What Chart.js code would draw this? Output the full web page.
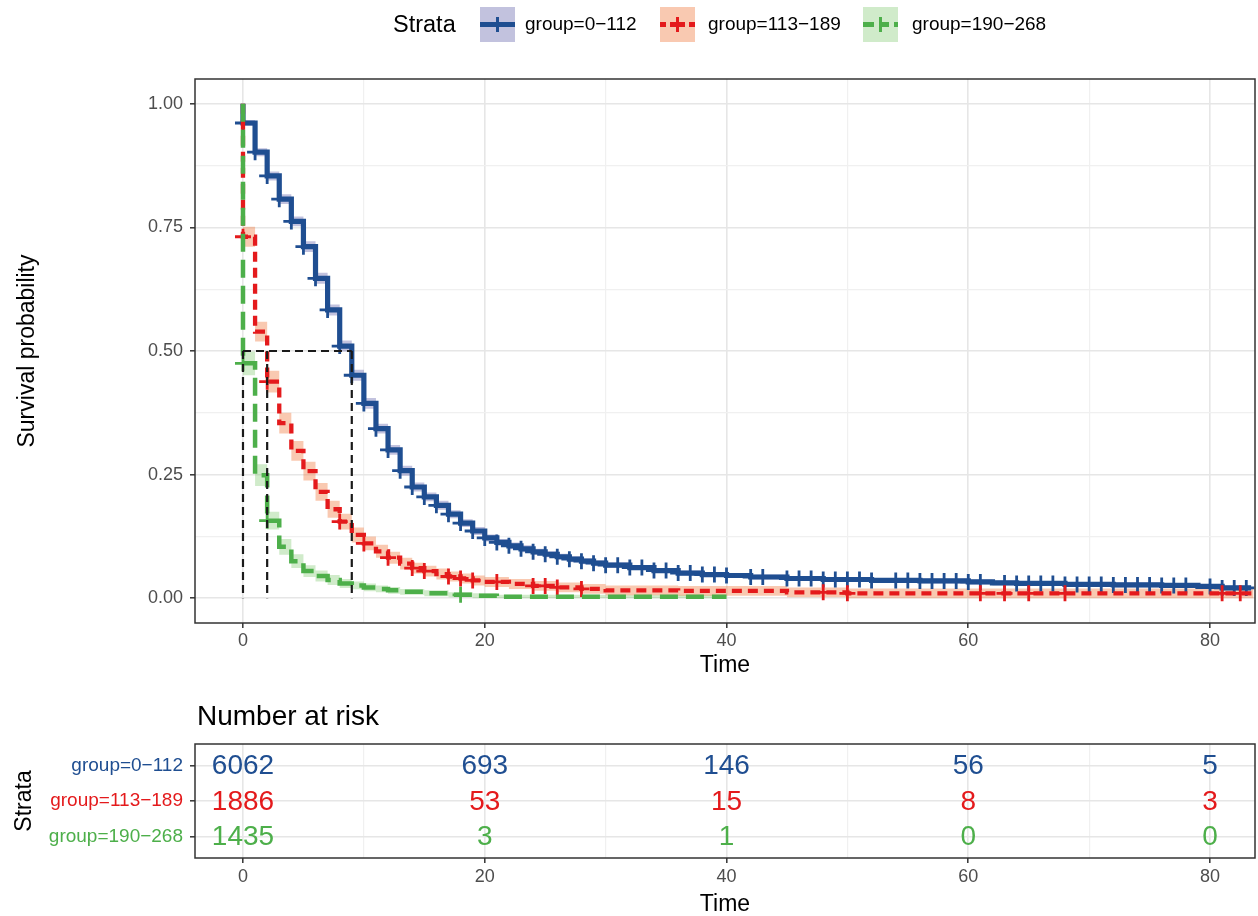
<!DOCTYPE html>
<html>
<head>
<meta charset="utf-8">
<title>Survival by group</title>
<script src="https://cdn.jsdelivr.net/npm/chart.js@4.4.1/dist/chart.umd.min.js"></script>
<style>
  html, body { margin: 0; padding: 0; background: #fff; }
  body { width: 1258px; height: 916px; position: relative; overflow: hidden; font-family: "Liberation Sans", Arial, sans-serif; }
  .pane { position: absolute; left: 0; width: 1258px; }
  #legend { position: absolute; left: 0; top: 0; width: 1258px; height: 50px; z-index: 2; }
  #legend .txt { position: absolute; top: 12px; line-height: 24px; white-space: nowrap; color: #000; }
  .key { position: absolute; top: 7px; width: 35px; height: 35px; }
  .key .h { position: absolute; left: 0; right: 0; top: 15px; height: 5px; }
  .key .v { position: absolute; left: 16px; top: 10px; width: 3px; height: 15px; }
</style>
</head>
<body>
<div id="legend"></div>
<div class="pane" style="top:0;height:690px"><canvas id="km"></canvas></div>
<div class="pane" style="top:690px;height:226px"><canvas id="risk"></canvas></div>

<script>
// groups
const groupNames = ["group=0\u2212112", "group=113\u2212189", "group=190\u2212268"];
const groupColors = ["#1f4e91", "#e41a1c", "#4daf4a"];
const bandColors = ["rgba(80,80,160,0.35)", "rgba(240,120,60,0.4)", "rgba(100,190,80,0.3)"];

// Kaplan-Meier curves
const blueTimes = [0,1,2,3,4,5,6,7,8,9,10,11,12,13,14,15,16,17,18,19,20,21,22,23,24,25,26,27,28,29,30,32,34,36,38,40,42,45,48,52,56,60,62,64,68,72,76,79,81];
const blueSurv = [0.961,0.902,0.854,0.807,0.762,0.711,0.647,0.583,0.510,0.451,0.394,0.343,0.300,0.258,0.225,0.205,0.188,0.170,0.152,0.136,0.122,0.113,0.106,0.100,0.094,0.089,0.084,0.079,0.075,0.071,0.067,0.062,0.056,0.051,0.048,0.046,0.043,0.040,0.038,0.036,0.035,0.033,0.031,0.030,0.028,0.027,0.026,0.024,0.021];
const blueHalf = [0.006,0.008,0.009,0.010,0.010,0.011,0.011,0.011,0.011,0.011,0.011,0.010,0.010,0.010,0.009,0.009,0.009,0.008,0.008,0.008,0.007,0.007,0.007,0.007,0.006,0.006,0.006,0.006,0.006,0.006,0.006,0.005,0.005,0.005,0.005,0.005,0.005,0.005,0.005,0.005,0.005,0.005,0.005,0.005,0.005,0.005,0.005,0.005,0.005];
const blueEnd = 83.4;
const blueCensor = [0,1,2,3,4,5,6,7,8,9,10,11,12,13,14,15,16,17,18,19,20,21,22,23,24,25,26,27,28,29,30,31,32,33,34,35,36,37,38,39,40,42,43,45,46,47,48,49,50,51,52,54,55,56,57,58,59,60,61,63,64,65,66,67,68,69,70,71,72,73,74,75,76,77,78,80,81,82,83];

const redTimes = [0,1,2,3,4,5,6,7,8,9,10,11,12,13,14,15,16,17,18,19,20,22,24,26,28,30,36,45,50];
const redSurv = [0.731,0.539,0.438,0.354,0.298,0.257,0.215,0.180,0.155,0.128,0.111,0.095,0.082,0.070,0.061,0.055,0.049,0.044,0.040,0.036,0.033,0.029,0.025,0.022,0.019,0.016,0.015,0.012,0.010];
const redHalf = [0.020,0.020,0.022,0.021,0.020,0.019,0.018,0.017,0.016,0.015,0.014,0.013,0.012,0.012,0.011,0.011,0.011,0.010,0.010,0.010,0.010,0.010,0.010,0.010,0.010,0.010,0.010,0.010,0.010];
const redEnd = 83.6;
const redCensor = [0,2,8,10,12,14,15,17,18,19,21,24,25,26,28,48,50,61,63,65,68,81,82.5];

const greenTimes = [0,1,2,3,4,5,6,7,8,9,10,11,12,13,15,17,19,21];
const greenSurv = [0.475,0.249,0.157,0.104,0.075,0.055,0.045,0.037,0.030,0.026,0.022,0.019,0.016,0.013,0.010,0.007,0.005,0.003];
const greenHalf = [0.024,0.022,0.018,0.016,0.014,0.012,0.011,0.010,0.009,0.008,0.008,0.007,0.007,0.006,0.006,0.005,0.005,0.004];
const greenEnd = 40;
const greenCensor = [0,2,18];

const medianTimes = [9, 2, 0];

// number at risk table
const riskTimes = [0, 20, 40, 60, 80];
const riskBlue = [6062, 693, 146, 56, 5];
const riskRed = [1886, 53, 15, 8, 3];
const riskGreen = [1435, 3, 1, 0, 0];

// axis ticks
const xTicks = [0, 10, 20, 30, 40, 50, 60, 70, 80];
const yTicks = [0, 0.125, 0.25, 0.375, 0.5, 0.625, 0.75, 0.875, 1];

const curves = [
  { times: blueTimes, surv: blueSurv, half: blueHalf, end: blueEnd, censor: blueCensor, dash: [], width: 5.2 },
  { times: redTimes, surv: redSurv, half: redHalf, end: redEnd, censor: redCensor, dash: [10, 6], width: 4.3 },
  { times: greenTimes, surv: greenSurv, half: greenHalf, end: greenEnd, censor: greenCensor, dash: [18, 8], width: 4.5 }
];
const riskRows = [riskBlue, riskRed, riskGreen];

Chart.defaults.font.family = '"Liberation Sans", Arial, sans-serif';
Chart.defaults.animation = false;

// legend (HTML)
const legend = document.getElementById("legend");
const keyLeft = [480, 660, 863];
const labLeft = [525, 708, 912];
legend.innerHTML = '<span class="txt" style="left:393px;font-size:23.5px">Strata</span>';
curves.forEach((c, i) => {
  const col = groupColors[i];
  let line = "background:" + col;
  if (c.dash.length) {
    line = "background:repeating-linear-gradient(90deg," + col + " 0 " + c.dash[0] * 0.6 + "px,transparent " + c.dash[0] * 0.6 + "px " + (c.dash[0] + c.dash[1]) * 0.6 + "px)";
  }
  legend.innerHTML += '<span class="key" style="left:' + keyLeft[i] + 'px;background:' + bandColors[i] + '">' +
    '<i class="h" style="' + line + '"></i><i class="v" style="background:' + col + '"></i></span>' +
    '<span class="txt" style="left:' + labLeft[i] + 'px;font-size:19px">' + groupNames[i] + '</span>';
});

// helpers
function survAt(c, t) {
  let v = 1;
  c.times.forEach((tt, i) => { if (tt <= t) v = c.surv[i]; });
  return v;
}
function stepPoints(c) {
  const pts = [{ x: 0, y: 1 }];
  c.times.forEach((t, i) => pts.push({ x: t, y: c.surv[i] }));
  pts.push({ x: c.end, y: c.surv[c.surv.length - 1] });
  return pts;
}
function bandPoints(c, sign) {
  const pts = c.times.map((t, i) => ({ x: t, y: Math.max(0, c.surv[i] + sign * c.half[i]) }));
  pts.push({ x: c.end, y: pts[pts.length - 1].y });
  return pts;
}

const isMajorX = v => v % 20 === 0;
const isMajorY = v => Math.abs(v * 4 - Math.round(v * 4)) < 1e-9;

const panelBorder = {
  id: "panelBorder",
  afterDraw(chart) {
    const { ctx, chartArea: a } = chart;
    ctx.save();
    ctx.strokeStyle = "#333";
    ctx.lineWidth = 1.5;
    ctx.strokeRect(a.left, a.top, a.right - a.left, a.bottom - a.top);
    ctx.restore();
  }
};

// main chart datasets
const datasets = [];
curves.forEach((c, i) => {
  datasets.push({ data: bandPoints(c, -1), stepped: true, borderColor: "rgba(0,0,0,0)", borderWidth: 1, pointRadius: 0, fill: false, order: 100 + i });
  datasets.push({ data: bandPoints(c, 1), stepped: true, borderColor: "rgba(0,0,0,0)", borderWidth: 1, pointRadius: 0, fill: "-1", backgroundColor: bandColors[i], order: 100 + i });
});
curves.forEach((c, i) => {
  datasets.push({
    data: stepPoints(c), stepped: true, borderColor: groupColors[i], borderWidth: c.width,
    borderDash: c.dash, borderCapStyle: "butt", pointRadius: 0, fill: false, order: 40 - i * 10
  });
  datasets.push({
    data: c.censor.map(t => ({ x: t, y: survAt(c, t) })), showLine: false,
    pointStyle: "cross", pointRadius: 8, pointBorderWidth: 2.8,
    pointBorderColor: groupColors[i], pointBackgroundColor: groupColors[i], order: 35 - i * 10
  });
});
// median guide lines
const medianLine = { borderColor: "#1a1a1a", borderWidth: 2.2, borderDash: [8, 5], pointRadius: 0, fill: false, order: 0 };
datasets.push(Object.assign({ data: [{ x: 0, y: 0.5 }, { x: Math.max(...medianTimes), y: 0.5 }] }, medianLine));
medianTimes.forEach(m => datasets.push(Object.assign({ data: [{ x: m, y: 0.5 }, { x: m, y: 0 }] }, medianLine)));

const tickFont = { size: 18 };
const gridColor = major => major ? "#e6e6e6" : "#f0f0f0";

new Chart(document.getElementById("km"), {
  type: "line",
  data: { datasets },
  options: {
    responsive: true,
    maintainAspectRatio: false,
    events: [],
    layout: { autoPadding: false, padding: { top: 79, right: 3, left: 0, bottom: 0 } },
    plugins: { legend: { display: false }, tooltip: { enabled: false } },
    scales: {
      x: {
        type: "linear", min: -3.97, max: 83.72,
        afterBuildTicks: s => { s.ticks = xTicks.map(v => ({ value: v })); },
        afterFit: s => { s.height = 67; },
        ticks: { font: tickFont, color: "#4d4d4d", padding: 2, maxRotation: 0, callback: v => isMajorX(v) ? String(v) : "" },
        grid: {
          color: c => gridColor(isMajorX(c.tick.value)), lineWidth: c => isMajorX(c.tick.value) ? 1.6 : 1.2,
          tickLength: 5, tickWidth: 1.5, tickColor: c => isMajorX(c.tick.value) ? "#333" : "rgba(0,0,0,0)"
        },
        border: { display: false },
        title: { display: true, text: "Time", color: "#000", font: { size: 23 }, padding: { top: 0, bottom: 11 } }
      },
      y: {
        type: "linear", min: -0.05, max: 1.05,
        afterBuildTicks: s => { s.ticks = yTicks.map(v => ({ value: v })); },
        afterFit: s => { s.width = 195; },
        ticks: { font: tickFont, color: "#4d4d4d", padding: 7, callback: v => isMajorY(v) ? v.toFixed(2) : "" },
        grid: {
          color: c => gridColor(isMajorY(c.tick.value)), lineWidth: c => isMajorY(c.tick.value) ? 1.6 : 1.2,
          tickLength: 5, tickWidth: 1.5, tickColor: c => isMajorY(c.tick.value) ? "#333" : "rgba(0,0,0,0)"
        },
        border: { display: false },
        title: { display: true, text: "Survival probability", color: "#000", font: { size: 23 }, padding: { top: 14, bottom: 0 } }
      }
    }
  },
  plugins: [panelBorder]
});

// risk table
const riskText = {
  id: "riskText",
  afterDatasetsDraw(chart) {
    const { ctx, chartArea: a } = chart;
    ctx.save();
    ctx.textAlign = "center";
    ctx.textBaseline = "middle";
    ctx.font = '28px "Liberation Sans", Arial, sans-serif';
    chart.data.datasets.forEach((ds, i) => {
      const meta = chart.getDatasetMeta(i);
      ctx.fillStyle = groupColors[i];
      meta.data.forEach((pt, j) => ctx.fillText(String(riskRows[i][j]), pt.x, pt.y + 1));
    });
    ctx.textAlign = "left";
    ctx.fillStyle = "#000";
    ctx.fillText("Number at risk", a.left + 2, a.top - 27);
    ctx.restore();
  }
};

new Chart(document.getElementById("risk"), {
  type: "line",
  data: {
    datasets: riskRows.map((row, i) => ({
      data: riskTimes.map(t => ({ x: t, y: i + 1 })), showLine: false, pointRadius: 0
    }))
  },
  options: {
    responsive: true,
    maintainAspectRatio: false,
    events: [],
    layout: { autoPadding: false, padding: { top: 54, right: 3, left: 0, bottom: 0 } },
    plugins: { legend: { display: false }, tooltip: { enabled: false } },
    scales: {
      x: {
        type: "linear", min: -3.97, max: 83.72,
        afterBuildTicks: s => { s.ticks = xTicks.map(v => ({ value: v })); },
        afterFit: s => { s.height = 58; },
        ticks: { font: tickFont, color: "#4d4d4d", padding: 3, maxRotation: 0, callback: v => isMajorX(v) ? String(v) : "" },
        grid: {
          color: c => gridColor(isMajorX(c.tick.value)), lineWidth: c => isMajorX(c.tick.value) ? 1.6 : 1.2,
          tickLength: 5, tickWidth: 1.5, tickColor: c => isMajorX(c.tick.value) ? "#333" : "rgba(0,0,0,0)"
        },
        border: { display: false },
        title: { display: true, text: "Time", color: "#000", font: { size: 23, lineHeight: 1 }, padding: { top: 0, bottom: 0 } }
      },
      y: {
        type: "linear", min: 0.4, max: 3.6, reverse: true,
        afterBuildTicks: s => { s.ticks = [1, 2, 3].map(v => ({ value: v })); },
        afterFit: s => { s.width = 195; },
        ticks: { font: { size: 19 }, color: c => groupColors[c.index], padding: 7, callback: v => groupNames[v - 1] },
        grid: { color: "#e6e6e6", lineWidth: 1.6, tickLength: 5, tickWidth: 1.5, tickColor: "#333" },
        border: { display: false },
        title: { display: true, text: "Strata", color: "#000", font: { size: 23 }, padding: { top: 11, bottom: 0 } }
      }
    }
  },
  plugins: [panelBorder, riskText]
});
</script>
</body>
</html>
